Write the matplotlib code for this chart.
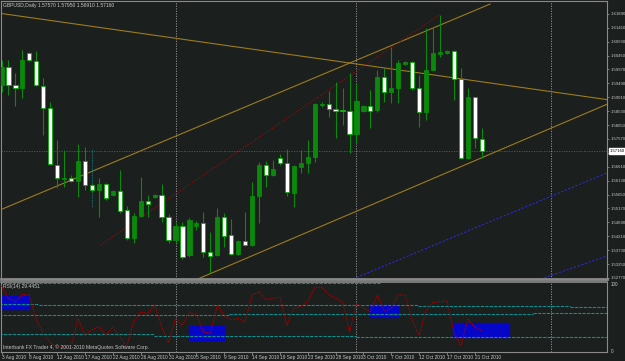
import datetime as dt
import numpy as np
import matplotlib
matplotlib.use('Agg')
import matplotlib.pyplot as plt
from matplotlib.patches import Rectangle

plt.rcParams['font.family'] = ['Liberation Sans', 'DejaVu Sans']

BG = '#1b1f1d'
GREEN = '#0a8a0a'
GOLD = '#9c7c1c'
TEAL = '#108c8c'
GREY = '#8a8a8a'
TXT = '#c8c8c8'
FS = 3.6

symbol = 'GBPUSD,Daily'
rsi_name = 'RSI(14)'

# daily bars 3 Aug 2010 .. 22 Oct 2010 (broker prints Sunday bars, no Saturday)
opens = [1.5944, 1.6006, 1.5944, 1.5933, 1.6054, 1.6026, 1.5940, 1.5864, 1.5667, 1.5619,
         1.5622, 1.5612, 1.5681, 1.5598, 1.5581, 1.5602, 1.5564, 1.5577, 1.5512, 1.5415,
         1.5491, 1.5543, 1.5557, 1.5564, 1.5488, 1.5408, 1.5457, 1.5356, 1.5457, 1.5467,
         1.5367, 1.5356, 1.5488, 1.5426, 1.5360, 1.5405, 1.5391, 1.5560, 1.5667, 1.5633,
         1.5691, 1.5674, 1.5571, 1.5660, 1.5674, 1.5695, 1.5874, 1.5878, 1.5861, 1.5857,
         1.5854, 1.5774, 1.5854, 1.5871, 1.5857, 1.5971, 1.5919, 1.5933, 1.6016, 1.6023,
         1.5933, 1.5850, 1.5995, 1.6050, 1.6054, 1.6061, 1.5964, 1.5691, 1.5902, 1.5757]
highs = [1.6030, 1.6030, 1.5985, 1.6064, 1.6057, 1.6061, 1.5968, 1.5885, 1.5754, 1.5719,
         1.5633, 1.5740, 1.5729, 1.5605, 1.5622, 1.5605, 1.5581, 1.5650, 1.5526, 1.5502,
         1.5626, 1.5564, 1.5567, 1.5602, 1.5498, 1.5470, 1.5470, 1.5484, 1.5474, 1.5505,
         1.5436, 1.5519, 1.5502, 1.5481, 1.5408, 1.5505, 1.5609, 1.5678, 1.5681, 1.5685,
         1.5705, 1.5722, 1.5667, 1.5719, 1.5754, 1.5881, 1.5885, 1.5923, 1.5954, 1.5933,
         1.5985, 1.5950, 1.5874, 1.5926, 1.5995, 1.6002, 1.6075, 1.6030, 1.6026, 1.6026,
         1.5978, 1.6140, 1.6144, 1.6185, 1.6064, 1.6064, 1.6002, 1.5933, 1.5902, 1.5795]
lows = [1.5919, 1.5909, 1.5871, 1.5899, 1.6026, 1.5940, 1.5771, 1.5667, 1.5588, 1.5591,
        1.5609, 1.5557, 1.5581, 1.5574, 1.5488, 1.5546, 1.5560, 1.5502, 1.5408, 1.5398,
        1.5488, 1.5488, 1.5553, 1.5470, 1.5398, 1.5398, 1.5343, 1.5350, 1.5443, 1.5350,
        1.5294, 1.5353, 1.5384, 1.5356, 1.5356, 1.5388, 1.5388, 1.5467, 1.5591, 1.5629,
        1.5667, 1.5560, 1.5522, 1.5640, 1.5640, 1.5678, 1.5867, 1.5833, 1.5760, 1.5805,
        1.5709, 1.5743, 1.5850, 1.5795, 1.5850, 1.5885, 1.5881, 1.5881, 1.6013, 1.5926,
        1.5798, 1.5823, 1.5995, 1.6040, 1.6050, 1.5892, 1.5688, 1.5688, 1.5726, 1.5691]
closes = [1.6006, 1.5944, 1.5933, 1.6030, 1.6030, 1.5944, 1.5864, 1.5671, 1.5622, 1.5622,
          1.5612, 1.5681, 1.5598, 1.5581, 1.5602, 1.5553, 1.5577, 1.5508, 1.5415, 1.5491,
          1.5543, 1.5533, 1.5564, 1.5488, 1.5408, 1.5457, 1.5350, 1.5477, 1.5467, 1.5367,
          1.5353, 1.5488, 1.5422, 1.5360, 1.5405, 1.5391, 1.5560, 1.5667, 1.5633, 1.5653,
          1.5674, 1.5574, 1.5664, 1.5674, 1.5695, 1.5878, 1.5878, 1.5861, 1.5854, 1.5854,
          1.5774, 1.5888, 1.5871, 1.5854, 1.5971, 1.5919, 1.5933, 1.6019, 1.6023, 1.5933,
          1.5850, 1.5995, 1.6054, 1.6057, 1.6061, 1.5964, 1.5691, 1.5902, 1.5760, 1.5716]
rsi = [97, 78, 73, 84, 83, 46, 26, 12, 6, 5,
       6, 48, 23, 31, 36, 23, 35, 21, 6, 43,
       58, 55, 68, 36, 12, 48, 38, 58, 53, 28,
       26, 68, 52, 46, 48, 43, 83, 88, 76, 78,
       80, 38, 63, 66, 73, 94, 95, 84, 78, 73,
       28, 70, 63, 58, 83, 59, 63, 83, 83, 46,
       23, 60, 72, 73, 74, 28, 7, 47, 35, 29.4451]

price_ticks = [1.5277 + 0.0048 * k for k in range(20)]

# drawn objects: (bar0, price0, bar1, price1)
gold_lines = [(-0.2, 1.6191, 87.0, 1.5893),
              (-0.2, 1.5512, 70.2, 1.6223),
              (28.2, 1.52735, 87.0, 1.5877)]
red_line = (14.2, 1.5391, 62.9, 1.6185)
blue_lines = [(50.5, 1.52735, 87.0, 1.5640),
              (77.5, 1.52735, 87.0, 1.5353)]
month_seps = [25, 51, 79]

# RSI panel levels: (bar_from, bar_to, value)
levels = [(-0.3, 54.5, 101.5),
          (-0.3, 5.4, 70.3), (5.4, 27.2, 68.8), (27.2, 49.1, 67.8), (49.1, 59.8, 67.8),
          (59.8, 81.7, 66.3), (81.7, 87.2, 64.4),
          (-0.3, 32.7, 53.0), (32.7, 76.4, 54.5), (76.4, 87.2, 56.0),
          (-0.3, 21.9, 24.8), (21.9, 50.9, 22.3), (50.9, 87.2, 20.8)]
boxes = [(-0.07, 3.95, 61.9, 81.6), (26.9, 32.0, 16.3, 36.6),
         (52.9, 57.0, 49.6, 67.8), (64.9, 72.9, 19.9, 41.5)]

# bar dates
dates = []
d = dt.date(2010, 8, 3)
while len(dates) < len(opens):
    if d.weekday() != 5:
        dates.append(d)
    d += dt.timedelta(days=1)

n = len(opens)
x = np.arange(n)
o, h, l, c = map(np.array, (opens, highs, lows, closes))

fig = plt.figure(figsize=(6.25, 3.61), dpi=100, facecolor=BG)
ax = fig.add_axes([1/625, 1 - 279/361, 606/625, 278/361], facecolor=BG)
ar = fig.add_axes([1/625, 1 - 352/361, 606/625, 70/361], facecolor=BG, sharex=ax)

ax.set_xlim((1 - 1.5) / 6.96, (607 - 1.5) / 6.96)
ax.set_ylim(1.52735, 1.62335)

# candles
ax.vlines(x, l, h, color=GREEN, lw=0.8, zorder=2)
up = c >= o
bot = np.minimum(o, c)
hgt = np.maximum(np.abs(c - o), 0.00022)
ax.bar(x[up], hgt[up], 0.6, bottom=bot[up], color=GREEN, edgecolor=GREEN, lw=0.6, zorder=3)
ax.bar(x[~up], hgt[~up], 0.6, bottom=bot[~up], color='white', edgecolor='#00b000', lw=0.6, zorder=3)

for x0, y0, x1, y1 in gold_lines:
    ax.plot([x0, x1], [y0, y1], color=GOLD, lw=0.8, zorder=1)
ax.plot(red_line[::2], red_line[1::2], color='#8a1010', lw=0.7, ls=(0, (1.5, 1.5)), zorder=1)
for x0, y0, x1, y1 in blue_lines:
    ax.plot([x0, x1], [y0, y1], color='#2a2ad0', lw=0.8, ls=(0, (2, 1.5)), zorder=1)
ax.vlines(13, 1.5522, 1.5723, color=TEAL, lw=0.6, ls=(0, (1, 1)), zorder=1)

# bid line and month separators
ax.axhline(c[-1], color='#5a5a5a', lw=0.6, ls=(0, (1.5, 1.5)), zorder=0)
for s in month_seps:
    for a in (ax, ar):
        a.axvline(s, color='#9a9a9a', lw=0.6, ls=(0, (1.5, 1.5)), zorder=0)

# price scale; the label hidden under the bid box is left blank
ax.yaxis.tick_right()
ax.set_yticks(price_ticks)
ax.set_yticklabels(['' if abs(p - c[-1]) < 0.0015 else '%.5f' % p for p in price_ticks])
ax.tick_params(axis='y', colors=GREY, labelcolor=TXT, labelsize=3.1, length=1.5, width=0.6, pad=1)
ax.tick_params(axis='x', bottom=False, labelbottom=False)
for sp in ax.spines.values():
    sp.set_color(GREY)
    sp.set_linewidth(0.8)
ax.spines['bottom'].set_linewidth(2)

ax.annotate('%.5f' % c[-1], xy=(1.0, c[-1]), xycoords=('axes fraction', 'data'),
            xytext=(2.0, 0), textcoords='offset points', va='center', ha='left',
            fontsize=3.1, color='black', zorder=5, annotation_clip=False,
            bbox=dict(boxstyle='square,pad=0.2', fc='white', ec='white'))

ax.text(0.004, 0.993, '%s %.5f %.5f %.5f %.5f' % (symbol, o[-1], h[-1], l[-1], c[-1]),
        transform=ax.transAxes, ha='left', va='top', fontsize=FS, color=TXT)

# RSI panel
ar.set_ylim(-1.93, 102.4)
for x0, x1, y0, y1 in boxes:
    ar.add_patch(Rectangle((x0, y0), x1 - x0, y1 - y0, color='#0606c8', zorder=1))
for x0, x1, v in levels:
    ar.hlines(v, x0, x1, color=TEAL, lw=0.8, ls=(0, (3, 1)), zorder=2)
ar.plot(x, rsi, color='#b00000', lw=0.7, ls=(0, (1.5, 1)), zorder=3)

ar.yaxis.tick_right()
ar.set_yticks([100, 0])
ar.set_yticklabels(['100', '0'])
ar.tick_params(axis='y', colors=GREY, labelcolor=TXT, labelsize=3.3, length=0, pad=3)
lab_idx = list(range(0, n, 4))
ar.set_xticks(lab_idx)
ar.set_xticklabels(['%d %s %d' % (dates[i].day, dates[i].strftime('%b'), dates[i].year)
                    for i in lab_idx], ha='left')
ar.tick_params(axis='x', colors=GREY, labelcolor=TXT, labelsize=3.4, length=2, width=0.6, pad=0.5)
for sp in ar.spines.values():
    sp.set_color(GREY)
    sp.set_linewidth(0.8)
ar.spines['top'].set_linewidth(1.2)

ar.text(0.004, 0.97, '%s %.4f' % (rsi_name, rsi[-1]), transform=ar.transAxes,
        ha='left', va='top', fontsize=FS, color=TXT)
ar.text(0.004, 0.03, 'Interbank FX Trader 4, \u00a9 2001-2010 MetaQuotes Software Corp.',
        transform=ar.transAxes, ha='left', va='bottom', fontsize=FS, color=TXT)

fig.savefig('out.png', dpi=100, facecolor=BG)
